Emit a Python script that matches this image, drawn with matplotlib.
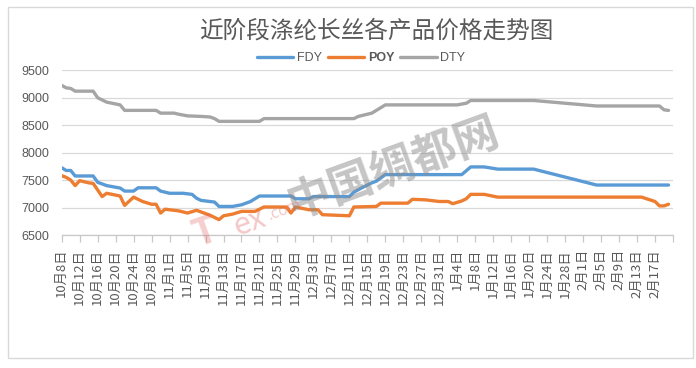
import matplotlib
matplotlib.use('Agg')
import matplotlib.pyplot as plt
import pandas as pd
from matplotlib.patches import Rectangle

plt.rcParams['font.family'] = ['Noto Sans CJK SC', 'DejaVu Sans']

# dados
data_inicio = '2019-10-08'
dias_eixo = 136

fdy_datas = ['2019-10-08', '2019-10-09', '2019-10-10', '2019-10-11', '2019-10-15', '2019-10-16',
             '2019-10-18', '2019-10-21', '2019-10-22', '2019-10-24', '2019-10-25', '2019-10-29',
             '2019-10-30', '2019-11-01', '2019-11-04', '2019-11-06', '2019-11-07', '2019-11-08',
             '2019-11-11', '2019-11-12', '2019-11-15', '2019-11-17', '2019-11-19', '2019-11-21',
             '2019-11-28', '2019-11-29', '2019-12-02', '2019-12-03', '2019-12-11', '2019-12-12',
             '2019-12-14', '2019-12-16', '2019-12-17', '2019-12-19', '2020-01-05', '2020-01-07',
             '2020-01-10', '2020-01-13', '2020-01-21', '2020-02-04', '2020-02-20']
fdy_valores = [7725, 7675, 7675, 7575, 7575, 7460,
               7400, 7355, 7300, 7300, 7360, 7360,
               7300, 7260, 7260, 7240, 7170, 7130,
               7100, 7020, 7020, 7050, 7110, 7210,
               7210, 7160, 7160, 7200, 7200, 7280,
               7370, 7450, 7480, 7600, 7600, 7740,
               7740, 7700, 7700, 7410, 7410]

poy_datas = ['2019-10-08', '2019-10-09', '2019-10-10', '2019-10-11', '2019-10-12', '2019-10-14',
             '2019-10-15', '2019-10-17', '2019-10-18', '2019-10-21', '2019-10-22', '2019-10-24',
             '2019-10-26', '2019-10-28', '2019-10-29', '2019-10-30', '2019-10-31', '2019-11-03',
             '2019-11-05', '2019-11-07', '2019-11-08', '2019-11-10', '2019-11-12', '2019-11-13',
             '2019-11-15', '2019-11-17', '2019-11-20', '2019-11-22', '2019-11-27', '2019-11-28',
             '2019-11-29', '2019-12-02', '2019-12-04', '2019-12-05', '2019-12-11', '2019-12-12',
             '2019-12-17', '2019-12-18', '2019-12-24', '2019-12-25', '2019-12-28', '2019-12-31',
             '2020-01-02', '2020-01-03', '2020-01-05', '2020-01-06', '2020-01-07', '2020-01-10',
             '2020-01-13', '2020-01-21', '2020-02-04', '2020-02-14', '2020-02-17', '2020-02-18',
             '2020-02-19', '2020-02-20']
poy_valores = [7580, 7550, 7500, 7400, 7490, 7450,
               7440, 7200, 7260, 7210, 7040, 7190,
               7110, 7060, 7060, 6900, 6970, 6940,
               6900, 6950, 6920, 6860, 6780, 6850,
               6880, 6930, 6930, 7010, 7010, 6900,
               7010, 6960, 6960, 6870, 6850, 7010,
               7020, 7080, 7080, 7150, 7140, 7110,
               7110, 7070, 7120, 7160, 7240, 7240,
               7190, 7190, 7190, 7190, 7110, 7030,
               7030, 7060]

dty_datas = ['2019-10-08', '2019-10-09', '2019-10-10', '2019-10-11', '2019-10-15', '2019-10-16',
             '2019-10-18', '2019-10-21', '2019-10-22', '2019-10-29', '2019-10-30', '2019-11-02',
             '2019-11-03', '2019-11-05', '2019-11-08', '2019-11-10', '2019-11-11', '2019-11-12',
             '2019-11-21', '2019-11-22', '2019-12-12', '2019-12-13', '2019-12-16', '2019-12-19',
             '2020-01-04', '2020-01-06', '2020-01-07', '2020-01-21', '2020-02-04', '2020-02-18',
             '2020-02-19', '2020-02-20']
dty_valores = [9225, 9180, 9170, 9120, 9120, 9000,
               8920, 8870, 8770, 8770, 8720, 8720,
               8700, 8670, 8660, 8650, 8620, 8570,
               8570, 8620, 8620, 8660, 8720, 8870,
               8870, 8900, 8950, 8950, 8850, 8850,
               8780, 8770]

series = [('FDY', fdy_datas, fdy_valores, '#5B9BD5'),
          ('POY', poy_datas, poy_valores, '#ED7D31'),
          ('DTY', dty_datas, dty_valores, '#A5A5A5')]

titulo = '近阶段涤纶长丝各产品价格走势图'
y_ticks = [6500, 7000, 7500, 8000, 8500, 9000, 9500]

W, H = 696, 368
fig = plt.figure(figsize=(W / 100, H / 100), dpi=100)
ax = fig.add_axes([61.7 / W, 1 - 235 / H, (673 - 61.7) / W, (235 - 70.3) / H])

inicio = pd.Timestamp(data_inicio)
linhas = []
for nome, datas, valores, cor in series:
    x = (pd.to_datetime(datas) - inicio).days
    l, = ax.plot(x, valores, color=cor, lw=2.4, solid_joinstyle='round',
                 solid_capstyle='round', label=nome, zorder=3)
    linhas.append(l)

ax.set_xlim(0, dias_eixo)
ax.set_ylim(6500, 9500)

# eixo x: rotulo a cada 4 dias
pos_x = list(range(0, dias_eixo + 1, 4))
rotulos_x = []
for p in pos_x:
    d = inicio + pd.Timedelta(days=p)
    rotulos_x.append('' if p >= dias_eixo else '%d月%d日' % (d.month, d.day))
ax.set_xticks(pos_x)
ax.set_xticklabels(rotulos_x, rotation=90, fontsize=9.5, color='#595959')
ax.tick_params(axis='x', direction='out', length=5, width=0.9, color='#c8c8c8', pad=5)

ax.set_yticks(y_ticks)
ax.set_yticklabels([str(v) for v in y_ticks], fontsize=9, color='#595959',
                   fontfamily='Liberation Sans')
ax.tick_params(axis='y', length=0, pad=9)

ax.yaxis.grid(True, color='#d9d9d9', lw=0.9)
ax.set_axisbelow(True)
for s in ['top', 'right', 'left']:
    ax.spines[s].set_visible(False)
ax.spines['bottom'].set_color('#c8c8c8')
ax.spines['bottom'].set_linewidth(0.9)

fig.text(376 / W, 1 - 31 / H, titulo, ha='center', va='center', fontsize=17, color='#595959')

leg = fig.legend(handles=linhas, loc='center', bbox_to_anchor=(361 / W, 1 - 58 / H), ncol=3,
                 frameon=False, handlelength=2.9, handletextpad=0.3, columnspacing=0.5,
                 prop={'family': 'Liberation Sans', 'size': 9}, labelcolor='#595959')
leg.get_texts()[1].set_fontweight('bold')

# marca d'agua
fig.text(393 / W, 1 - 168 / H, '中国绸都网', rotation=20, fontsize=32, color='#8c8c8c',
         alpha=0.5, ha='center', va='center', weight='bold', zorder=10)
fig.text(205 / W, 1 - 232 / H, 'T', rotation=20, fontsize=28, color='#e06060', alpha=0.3,
         style='italic', ha='center', va='center', weight='bold', zorder=10)
fig.text(250 / W, 1 - 222 / H, 'ex', rotation=20, fontsize=22, color='#e06060', alpha=0.35,
         style='italic', ha='center', va='center', zorder=10)
fig.text(285 / W, 1 - 210 / H, '.com', rotation=20, fontsize=11, color='#e06060', alpha=0.35,
         style='italic', ha='center', va='center', zorder=10)

fig.add_artist(Rectangle((8 / W, 1 - 358 / H), 685 / W, 351 / H, transform=fig.transFigure,
                         fill=False, edgecolor='#d9d9d9', lw=1))

fig.savefig('out.png', dpi=100)
